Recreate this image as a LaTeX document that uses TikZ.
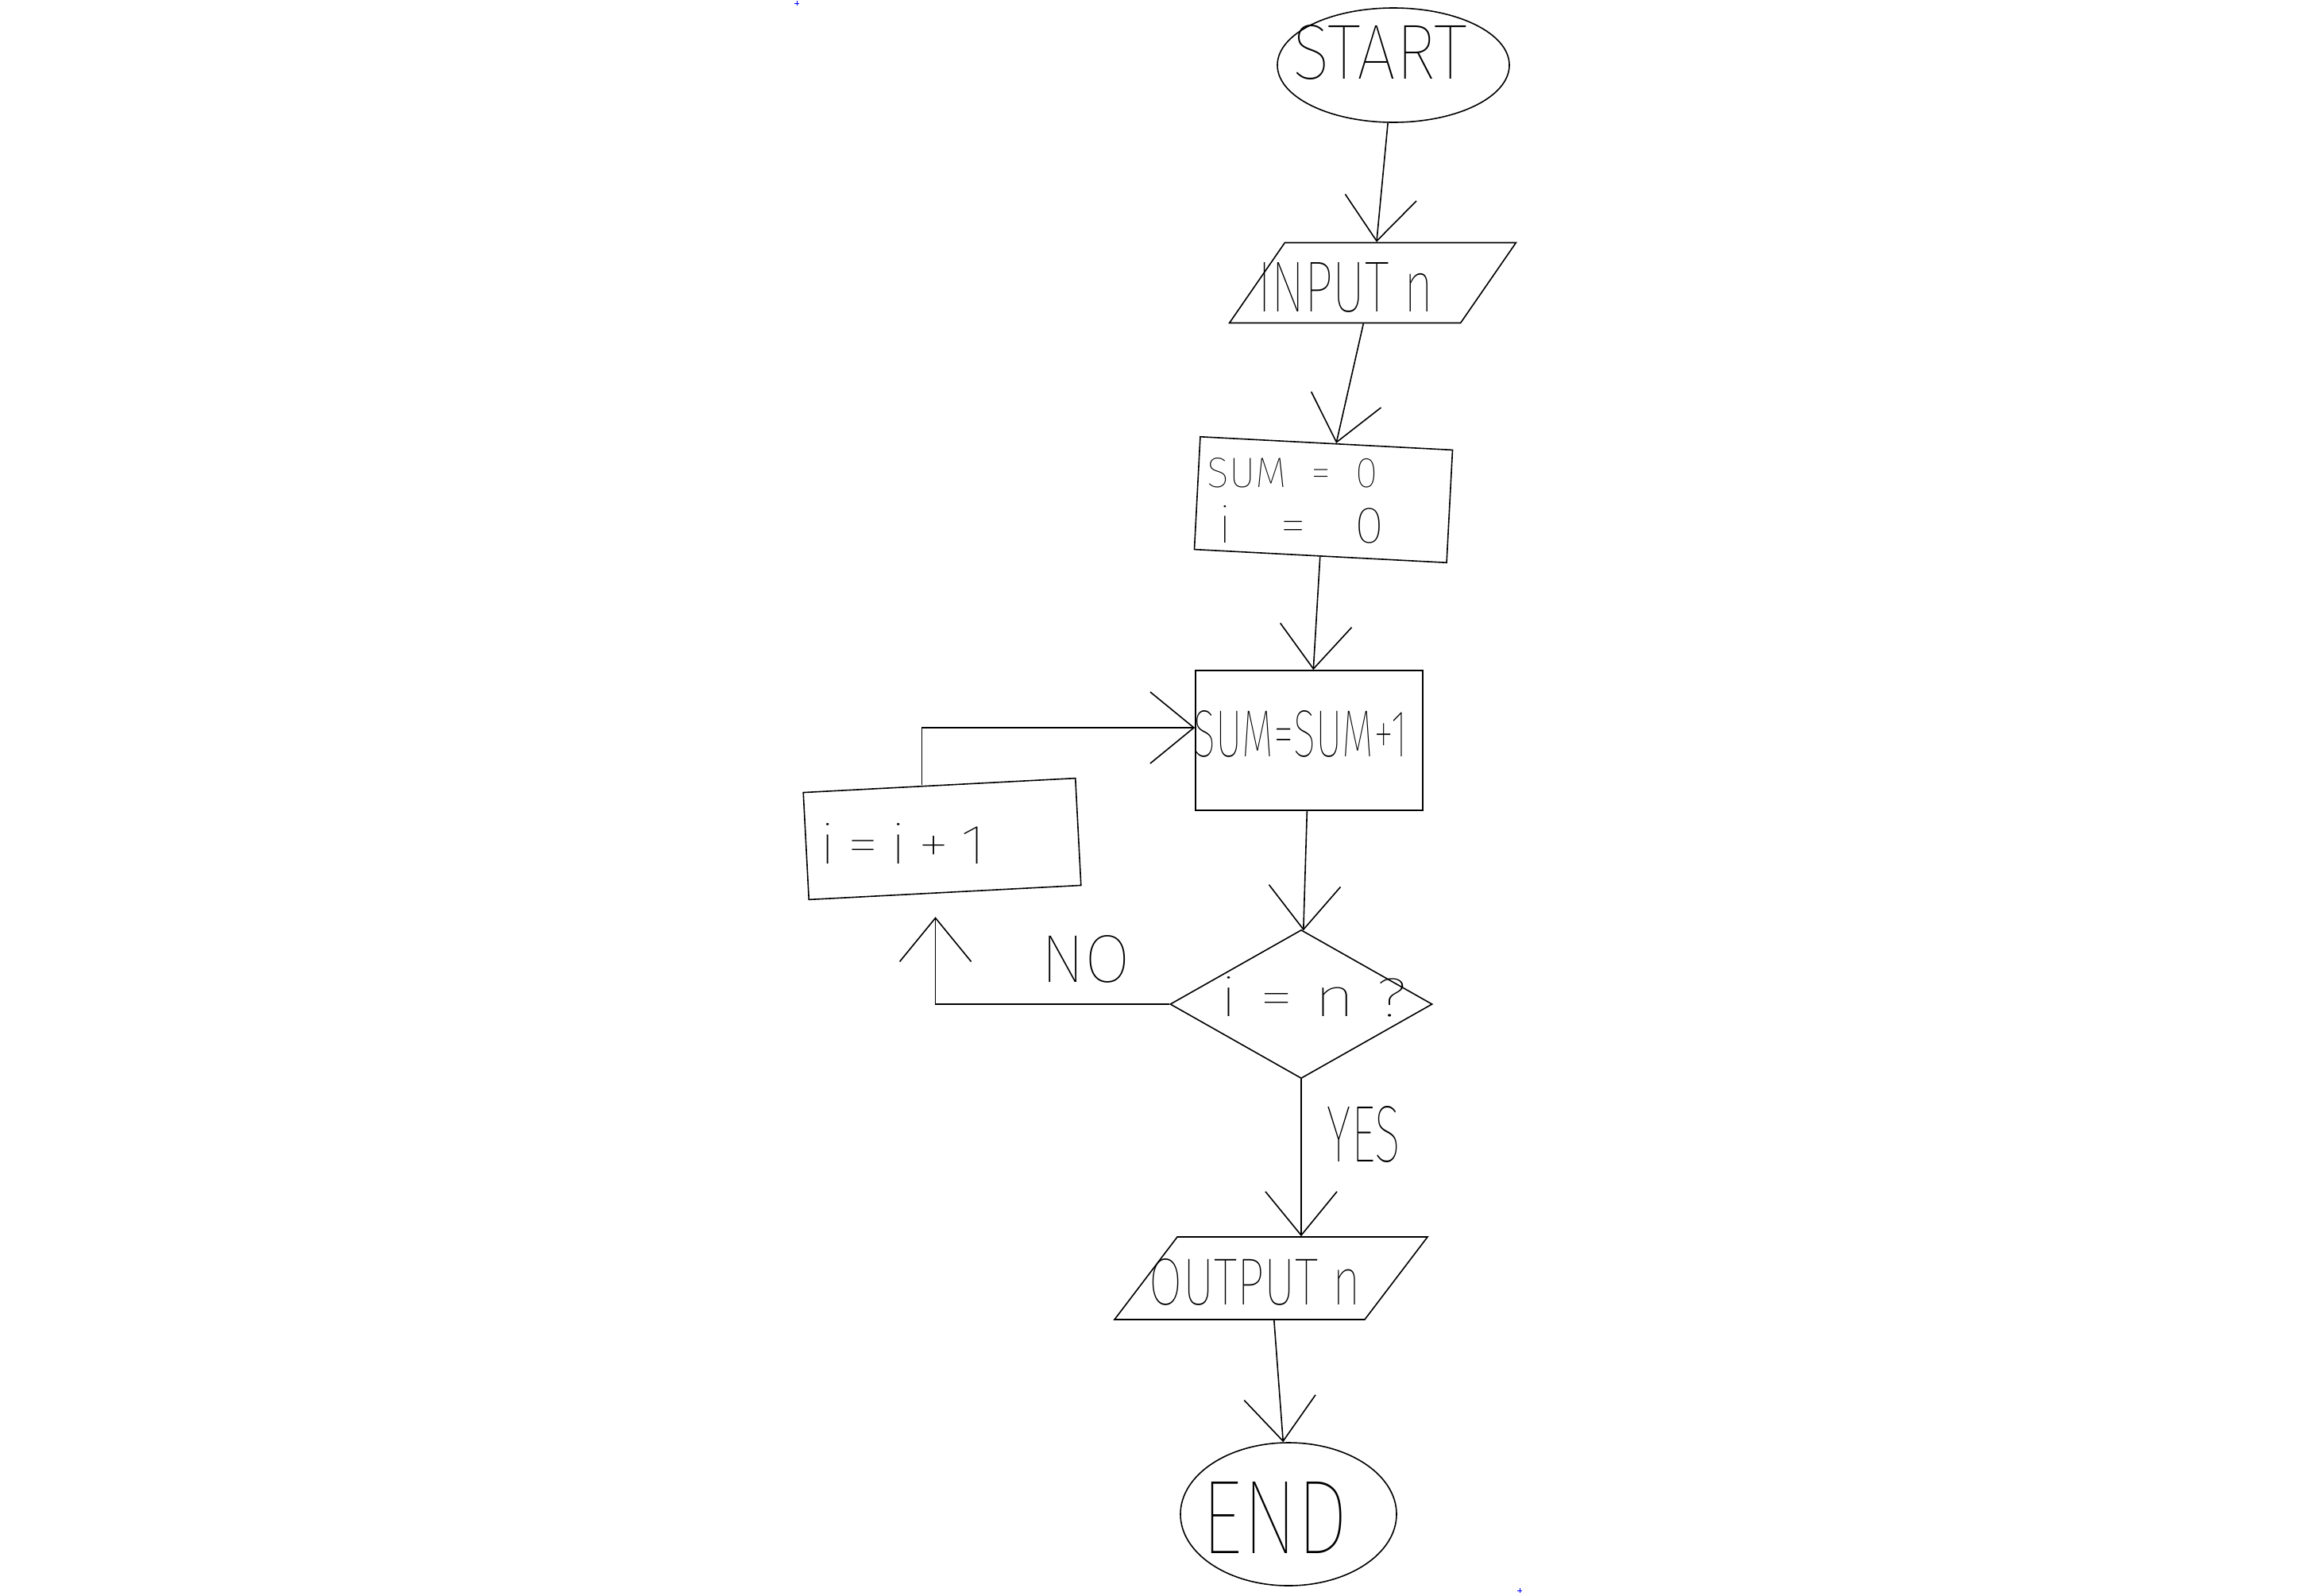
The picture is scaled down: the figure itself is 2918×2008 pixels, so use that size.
\documentclass[tikz,border=0pt]{standalone}
\usepackage{fontspec}
\usepackage{graphicx}
\usetikzlibrary{shapes.geometric,arrows.meta,calc}
\newfontfamily\hand{Fira Sans}[UprightFont=* Thin]
% label text squeezed or stretched into a given width and height
\newcommand{\fitlbl}[3]{\resizebox{#1}{#2}{\hand #3}}

\begin{document}
\begin{tikzpicture}[x=1pt,y=-1pt,line width=1.6pt,
  shapeline/.style={draw,line width=1.6pt,inner sep=0pt},
  terminal/.style={shapeline,ellipse},
  io/.style={shapeline,rectangle},
  process/.style={shapeline,rectangle},
  decision/.style={shapeline,diamond},
  txt/.style={inner sep=0pt},
  flow/.style={-{Straight Barb[length=55pt,width=90pt,line width=1.6pt]}},
  crossmark/.style={draw=blue,line width=1pt}]
\useasboundingbox (0,0) rectangle (2918,2008);

% shapes
\node[terminal,minimum width=292pt,minimum height=144pt] (start) at (1754,82) {};
\node[io,xslant=0.69,minimum width=291pt,minimum height=101pt] (input) at (1728,356) {};
\node[process,rotate=-3,minimum width=318pt,minimum height=142pt] (init) at (1666,629) {};
\node[process,minimum width=286pt,minimum height=176pt] (sum) at (1648,932) {};
\node[process,rotate=3,minimum width=343pt,minimum height=135pt] (incr) at (1186,1056) {};
\node[decision,minimum width=330pt,minimum height=187pt] (cond) at (1638,1264) {};
\node[io,xslant=0.76,minimum width=315pt,minimum height=104pt] (output) at (1600,1609) {};
\node[terminal,minimum width=272pt,minimum height=180pt] (end) at (1622,1906) {};

% texts
\node[txt] (startT) at (1737,66) {\fitlbl{220pt}{68pt}{START}};
\node[txt] (inputT) at (1694,362) {\fitlbl{222pt}{62pt}{INPUT~n}};
\node[txt] (initA) at (1627,595) {\fitlbl{215pt}{37pt}{SUM~~=~~0}};
\node[txt] (initB) at (1638,660) {\fitlbl{209pt}{47pt}{i~~~=~~~0}};
\node[txt] (sumT) at (1637,924) {\fitlbl{269pt}{58pt}{SUM=SUM+1}};
\node[txt] (incrT) at (1137,1062) {\fitlbl{210pt}{51pt}{i\,=\,i\,+\,1}};
\node[txt] (condT) at (1654,1255) {\fitlbl{236pt}{50pt}{i = n ?}};
\node[txt] (noT) at (1367,1207) {\fitlbl{113pt}{59pt}{NO}};
\node[txt] (yesT) at (1717,1428) {\fitlbl{92pt}{70pt}{YES}};
\node[txt] (outputT) at (1580,1614) {\fitlbl{266pt}{58pt}{OUTPUT~n}};
\node[txt] (endT) at (1605,1910) {\fitlbl{185pt}{90pt}{END}};

% connectors
\draw[flow] (start) -- (input);
\draw[flow] (input) -- (init);
\draw[flow] (init) -- (sum);
\draw[flow] (sum) -- (cond);
\draw[flow] (cond.south) -- (cond.south |- output.north);
\draw[flow] (output) -- (end);
\draw[flow,shorten >=30pt] (cond.west) -| ([xshift=-12pt]incr.south);
\draw[flow] ([xshift=-22pt]incr.north) |- ([yshift=16pt]sum.west);

% small blue pen marks
\draw[crossmark] (1000,4) -- (1006,4) (1003,1) -- (1003,7);
\draw[crossmark] (1910,2002) -- (1916,2002) (1913,1999) -- (1913,2005);
\end{tikzpicture}
\end{document}
